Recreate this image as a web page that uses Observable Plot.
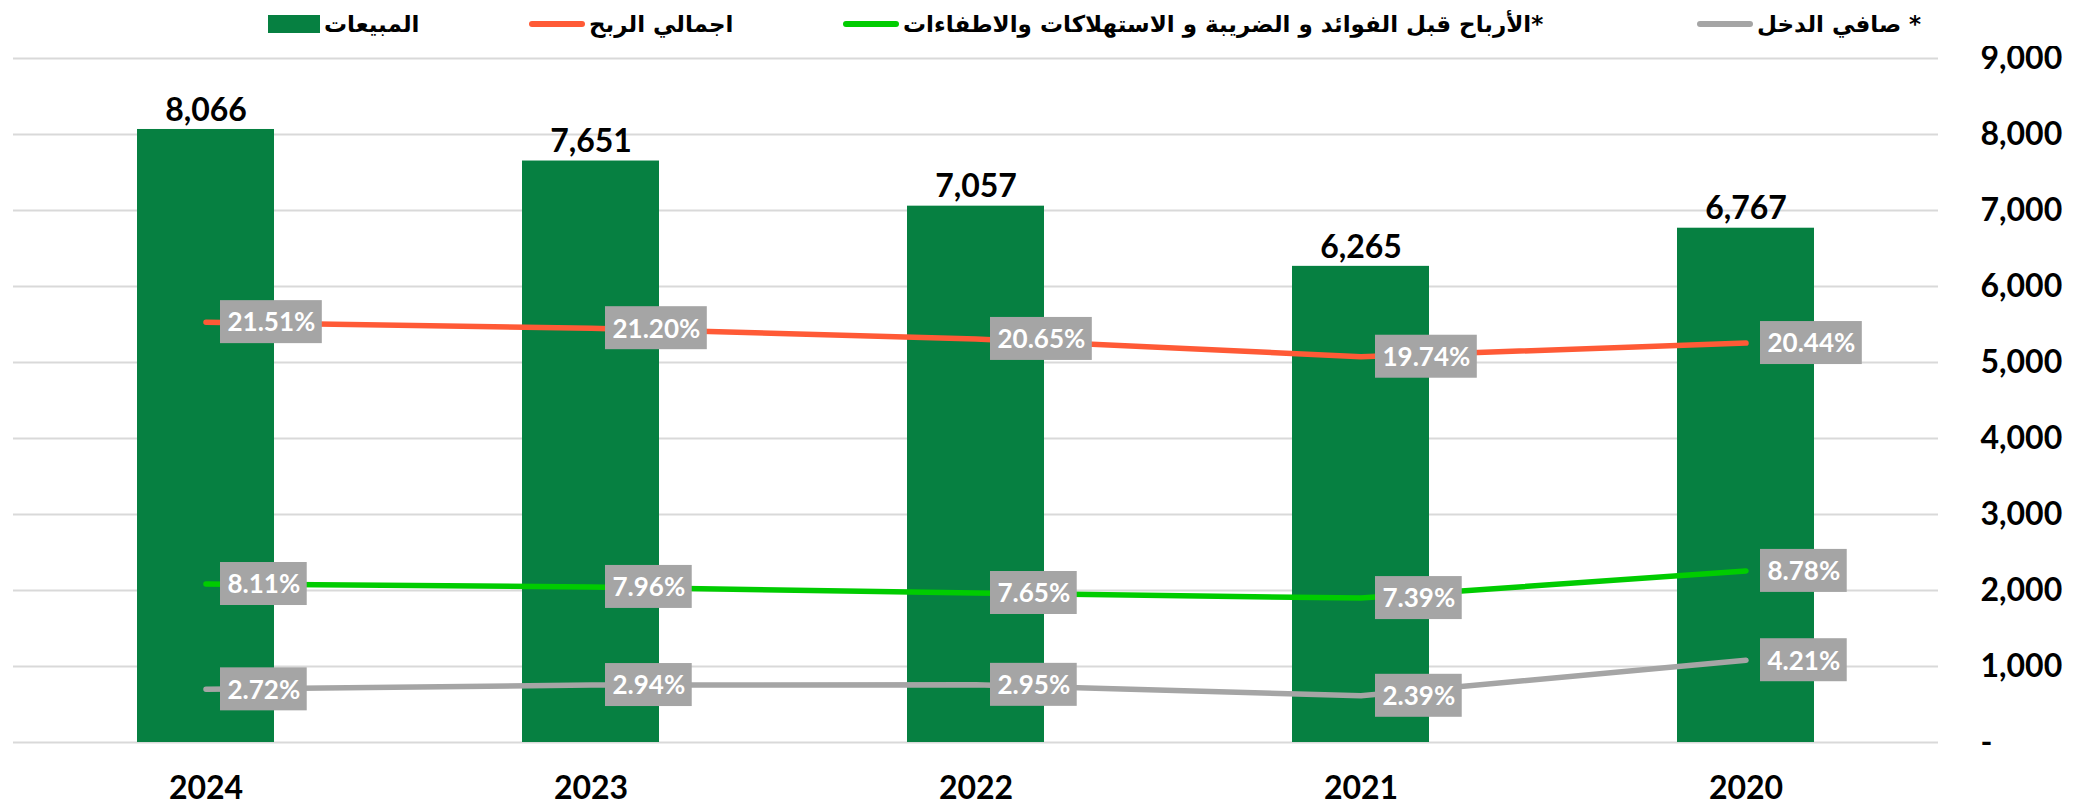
<!DOCTYPE html>
<html>
<head>
<meta charset="utf-8">
<script src="https://cdn.jsdelivr.net/npm/d3@7"></script>
<script src="https://cdn.jsdelivr.net/npm/@observablehq/plot@0.6"></script>
<style>
  html, body { margin: 0; padding: 0; background: #fff; }
  #legend { position: relative; z-index: 2; width: 2087px; height: 46px; }
  .li { position: absolute; top: 0; height: 48px; display: flex; align-items: center; white-space: nowrap; overflow: visible; }
  .sym-sq { width: 52px; height: 18px; flex: none; }
  .sym-ln { width: 56px; height: 6px; border-radius: 3px; flex: none; }
  .lt { font-family: "DejaVu Sans", "Noto Sans", sans-serif; font-weight: bold; font-size: 23px; line-height: normal; color: #000; margin-left: 4px; padding: 6px 6px 6px 0; flex: none; }
  #chart { position: relative; z-index: 1; }
  #chart svg { display: block; }
</style>
</head>
<body>
<div id="legend"></div>
<div id="chart"></div>
<script>
// ---- data ----
const years = ["2024", "2023", "2022", "2021", "2020"];
const sales = [8066, 7651, 7057, 6265, 6767];           // المبيعات
const grossMargin = [21.51, 21.20, 20.65, 19.74, 20.44]; // اجمالي الربح %
const ebitdaMargin = [8.11, 7.96, 7.65, 7.39, 8.78];     // EBITDA %
const netMargin = [2.72, 2.94, 2.95, 2.39, 4.21];         // صافي الدخل %
const yTicks = [0, 1000, 2000, 3000, 4000, 5000, 6000, 7000, 8000, 9000];
const pctAxisMax = 35; // hidden secondary axis 0–35%

const legendLabels = ["المبيعات", "اجمالي الربح", "*الأرباح قبل الفوائد و الضريبة و الاستهلاكات والاطفاءات", "* صافي الدخل"];
const legendColors = ["#068041", "#FF5A36", "#00CC00", "#A5A5A5"];
const legendKinds = ["square", "line", "line", "line"];
const legendLeft = [268, 529, 843, 1697];

// ---- legend ----
const legend = document.getElementById("legend");
legendLabels.forEach((lab, i) => {
  const item = document.createElement("div");
  item.className = "li";
  item.style.left = legendLeft[i] + "px";
  const sym = document.createElement("div");
  sym.className = legendKinds[i] === "square" ? "sym-sq" : "sym-ln";
  sym.style.background = legendColors[i];
  const t = document.createElement("span");
  t.className = "lt";
  t.dir = "rtl";
  t.textContent = lab;
  item.appendChild(sym);
  item.appendChild(t);
  legend.appendChild(item);
});

// ---- chart data tables ----
const barData = years.map((y, i) => ({year: y, sales: sales[i]}));
const seriesDefs = [
  {name: "gross", values: grossMargin, color: legendColors[1]},
  {name: "ebitda", values: ebitdaMargin, color: legendColors[2]},
  {name: "net", values: netMargin, color: legendColors[3]}
];
const toY = p => p / pctAxisMax * 9000;

const labelFont = "bold 26px Lato";
const canvas = document.createElement("canvas");
const ctx = canvas.getContext("2d");
ctx.font = labelFont;

const pctData = seriesDefs.flatMap(s => years.map((y, i) => {
  const label = s.values[i].toFixed(2) + "%";
  return {year: y, series: s.name, pct: s.values[i], label, w: ctx.measureText(label).width + 14, color: s.color};
}));

const BOX_DX = 14.5, BOX_H = 43;

function boxRender(index, scales, values) {
  const g = d3.create("svg:g");
  const bwRaw = scales.x && scales.x.bandwidth;
  const bw = typeof bwRaw === "function" ? bwRaw() : (bwRaw || 0);
  for (const i of index) {
    const cx = values.x[i] + bw / 2;
    const cy = values.y[i];
    g.append("rect")
      .attr("x", cx + BOX_DX)
      .attr("y", cy - BOX_H / 2)
      .attr("width", pctData[i].w)
      .attr("height", BOX_H)
      .attr("fill", "#A5A5A5");
  }
  return g.node();
}

const fmt = d3.format(",");

const plot = Plot.plot({
  width: 2087,
  height: 760,
  marginTop: 12,
  marginBottom: 64,
  marginLeft: 13,
  marginRight: 149,
  style: {fontFamily: "Lato, 'Open Sans', sans-serif", fontSize: "32px", fontWeight: "bold", color: "#000", background: "transparent"},
  x: {domain: years, paddingInner: 0.644, paddingOuter: 0.322, label: null, tickSize: 0, tickPadding: 34},
  y: {domain: [0, 9000], axis: "right", ticks: yTicks, tickSize: 0, tickPadding: 42, label: null,
      tickFormat: d => d === 0 ? "-" : fmt(d)},
  marks: [
    Plot.ruleY(yTicks, {stroke: "#D9D9D9", strokeWidth: 2}),
    Plot.barY(barData, {x: "year", y: "sales", fill: legendColors[0]}),
    Plot.text(barData, {x: "year", y: "sales", text: d => fmt(d.sales), dy: -19, fontSize: 32, fontWeight: "bold", fill: "#000"}),
    ...seriesDefs.map(s => Plot.line(pctData.filter(d => d.series === s.name), {
      x: "year", y: d => toY(d.pct), stroke: s.color, strokeWidth: 5.5, strokeLinecap: "round", strokeLinejoin: "round"
    })),
    Plot.dot(pctData, {x: "year", y: d => toY(d.pct), render: boxRender}),
    Plot.text(pctData, {x: "year", y: d => toY(d.pct), text: "label", textAnchor: "start", dx: BOX_DX + 7, dy: 1,
      fontSize: 26, fontWeight: "bold", fill: "#fff"})
  ]
});
document.getElementById("chart").appendChild(plot);
</script>
</body>
</html>
